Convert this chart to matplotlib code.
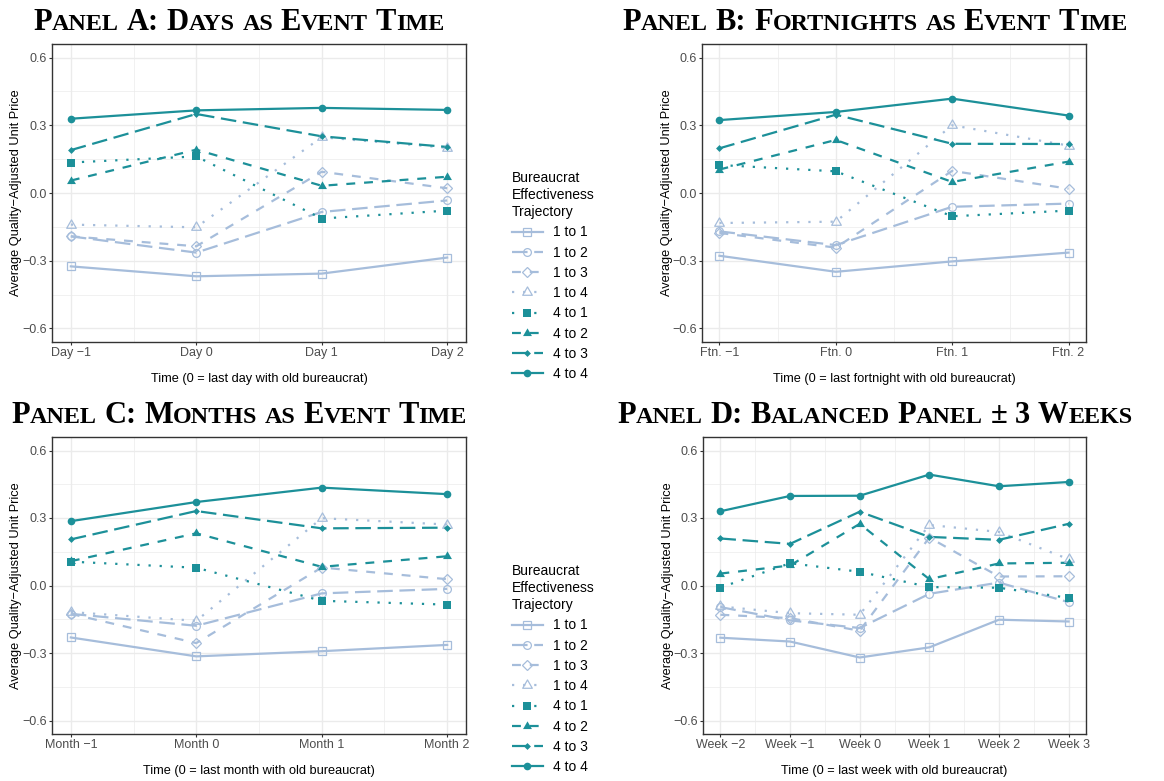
import matplotlib
matplotlib.use('Agg')
import matplotlib.pyplot as plt
from matplotlib.lines import Line2D
from matplotlib.path import Path
from matplotlib.transforms import IdentityTransform
import numpy as np

plt.rcParams['font.family'] = ['Liberation Sans', 'DejaVu Sans']

# 轨迹类别 (图例顺序)
series = ['1 to 1', '1 to 2', '1 to 3', '1 to 4', '4 to 1', '4 to 2', '4 to 3', '4 to 4']

# Panel A: days
days_ticks = ['Day \u22121', 'Day 0', 'Day 1', 'Day 2']
days_vals = [
    [-0.325, -0.369, -0.357, -0.286],
    [-0.192, -0.264, -0.084, -0.033],
    [-0.192, -0.236, 0.094, 0.021],
    [-0.140, -0.152, 0.247, 0.200],
    [0.135, 0.162, -0.113, -0.078],
    [0.055, 0.192, 0.032, 0.072],
    [0.190, 0.350, 0.251, 0.204],
    [0.329, 0.366, 0.377, 0.368],
]

# Panel B: fortnights
ftn_ticks = ['Ftn. \u22121', 'Ftn. 0', 'Ftn. 1', 'Ftn. 2']
ftn_vals = [
    [-0.278, -0.349, -0.303, -0.264],
    [-0.170, -0.231, -0.061, -0.047],
    [-0.177, -0.242, 0.098, 0.019],
    [-0.133, -0.127, 0.300, 0.210],
    [0.124, 0.096, -0.103, -0.078],
    [0.104, 0.235, 0.049, 0.139],
    [0.198, 0.347, 0.218, 0.217],
    [0.323, 0.359, 0.418, 0.343],
]

# Panel C: months
month_ticks = ['Month \u22121', 'Month 0', 'Month 1', 'Month 2']
month_vals = [
    [-0.231, -0.315, -0.292, -0.264],
    [-0.126, -0.179, -0.035, -0.015],
    [-0.126, -0.256, 0.080, 0.028],
    [-0.118, -0.157, 0.299, 0.271],
    [0.106, 0.079, -0.068, -0.085],
    [0.108, 0.232, 0.083, 0.130],
    [0.205, 0.331, 0.254, 0.257],
    [0.286, 0.371, 0.435, 0.406],
]

# Panel D: balanced weeks
week_ticks = ['Week \u22122', 'Week \u22121', 'Week 0', 'Week 1', 'Week 2', 'Week 3']
week_vals = [
    [-0.232, -0.249, -0.320, -0.275, -0.152, -0.160],
    [-0.096, -0.155, -0.189, -0.037, 0.013, -0.074],
    [-0.130, -0.145, -0.201, 0.213, 0.040, 0.041],
    [-0.093, -0.123, -0.130, 0.269, 0.238, 0.117],
    [-0.009, 0.099, 0.061, -0.007, -0.010, -0.055],
    [0.053, 0.089, 0.274, 0.028, 0.098, 0.101],
    [0.209, 0.185, 0.328, 0.216, 0.203, 0.274],
    [0.330, 0.398, 0.399, 0.493, 0.441, 0.460],
]

LIGHT = '#A6BDDB'
TEAL = '#1C9099'
# 以重心为中心的闭合三角形
TRI = Path([(0, 1), (-0.866, -0.5), (0.866, -0.5), (0, 1)], closed=True)

LONGDASH = (0, (7, 3))
DASHED = (0, (4, 4))
DOTTED = (0, (1, 4))

# 每条线的样式: 颜色, 线型, 标记, 标记大小, 是否实心
styles = [
    (LIGHT, '-', 's', 5.6, False),
    (LIGHT, LONGDASH, 'o', 5.6, False),
    (LIGHT, DASHED, 'D', 5.5, False),
    (LIGHT, DOTTED, TRI, 8.0, False),
    (TEAL, DOTTED, 's', 5.6, True),
    (TEAL, DASHED, TRI, 7.4, True),
    (TEAL, LONGDASH, 'D', 3.5, True),
    (TEAL, '-', 'o', 5.5, True),
]
LW = 1.6


def marker_kw(color, marker, ms, filled):
    return dict(marker=marker, ms=ms, mec=color,
                mfc=color if filled else 'none', mew=0.0 if filled else 0.9)


def draw_panel(ax, ticks, vals, xlabel):
    n = len(ticks)
    x = np.arange(n)
    for row, (c, ls, m, ms, filled) in zip(vals, styles):
        ax.plot(x, row, color=c, ls=ls, lw=LW, zorder=2)
    for row, (c, ls, m, ms, filled) in zip(vals, styles):
        ax.plot(x, row, ls='none', zorder=3, **marker_kw(c, m, ms, filled))
    ax.set_xlim(-0.05 * (n - 1), (n - 1) * 1.05)
    ax.set_ylim(-0.66, 0.66)
    ax.set_xticks(x)
    ax.set_xticklabels(ticks)
    ax.set_xticks(x[:-1] + 0.5, minor=True)
    ax.set_yticks([-0.6, -0.3, 0.0, 0.3, 0.6])
    ax.set_yticklabels(['\u22120.6', '\u22120.3', '0.0', '0.3', '0.6'])
    ax.set_yticks([-0.45, -0.15, 0.15, 0.45], minor=True)
    ax.grid(which='major', color='#EBEBEB', lw=1.0, zorder=0)
    ax.grid(which='minor', color='#EBEBEB', lw=0.5, zorder=0)
    ax.set_axisbelow(True)
    ax.tick_params(which='major', length=2, width=0.8, color='#333333',
                   labelcolor='#4D4D4D', labelsize=9, pad=1.5)
    ax.tick_params(which='minor', length=0)
    for sp in ax.spines.values():
        sp.set_color('#333333')
        sp.set_linewidth(1.0)
    ax.set_ylabel('Average Quality\u2212Adjusted Unit Price', fontsize=9.2)
    ax.set_xlabel(xlabel, fontsize=9.2)
    ax.xaxis.set_label_coords(0.5, -0.105)


def smallcaps(fig, s, xc, yb, size=22, ratio=0.79):
    # 用大小两种字号模拟小型大写字母标题
    r = fig.canvas.get_renderer()
    fam = 'Liberation Serif'
    probe = fig.text(0, 0, 'n n', fontsize=size, family=fam, weight='bold')
    probe2 = fig.text(0, 0, 'nn', fontsize=size, family=fam, weight='bold')
    space = probe.get_window_extent(r).width - probe2.get_window_extent(r).width
    probe.remove()
    probe2.remove()
    items = []
    for word in s.split(' '):
        runs = []
        for ch in word:
            big = not ch.islower()
            if runs and runs[-1][1] == big:
                runs[-1][0] += ch.upper()
            else:
                runs.append([ch.upper(), big])
        for txt, big in runs:
            t = fig.text(0, 0, txt, fontsize=size if big else size * ratio,
                         family=fam, weight='bold', va='baseline', ha='left',
                         transform=IdentityTransform())
            items.append([t, t.get_window_extent(r).width])
        items.append([None, space])
    items = items[:-1]
    total = sum(w for _, w in items)
    x = xc - total / 2
    for t, w in items:
        if t is not None:
            t.set_position((x, yb))
        x += w


W, H = 1164, 781
fig = plt.figure(figsize=(W / 100, H / 100), dpi=100)

ax_a = fig.add_axes([52 / W, 1 - 342 / H, 414 / W, 298 / H])
ax_b = fig.add_axes([702 / W, 1 - 342 / H, 384 / W, 298 / H])
ax_c = fig.add_axes([52 / W, 1 - 734 / H, 414 / W, 297 / H])
ax_d = fig.add_axes([703 / W, 1 - 734 / H, 383 / W, 297 / H])

draw_panel(ax_a, days_ticks, days_vals, 'Time (0 = last day with old bureaucrat)')
draw_panel(ax_b, ftn_ticks, ftn_vals, 'Time (0 = last fortnight with old bureaucrat)')
draw_panel(ax_c, month_ticks, month_vals, 'Time (0 = last month with old bureaucrat)')
draw_panel(ax_d, week_ticks, week_vals, 'Time (0 = last week with old bureaucrat)')

ax_a.yaxis.set_label_coords(-0.0725, 0.5)
ax_c.yaxis.set_label_coords(-0.0725, 0.5)
ax_b.yaxis.set_label_coords(-0.0755, 0.5)
ax_d.yaxis.set_label_coords(-0.0755, 0.5)

smallcaps(fig, 'Panel A: Days as Event Time', 239, H - 30)
smallcaps(fig, 'Panel B: Fortnights as Event Time', 875, H - 30)
smallcaps(fig, 'Panel C: Months as Event Time', 239, H - 423)
smallcaps(fig, 'Panel D: Balanced Panel \u00b1 3 Weeks', 875, H - 423)

# 图例
handles = []
for c, ls, m, ms, filled in styles:
    handles.append(Line2D([], [], color=c, ls=ls, lw=LW, **marker_kw(c, m, ms, filled)))

for top in (171, 564):
    leg = fig.legend(handles, series, title='Bureaucrat\nEffectiveness\nTrajectory',
                     loc='upper left', bbox_to_anchor=(512 / W, 1 - top / H),
                     frameon=False, fontsize=10, title_fontsize=10,
                     handlelength=2.2, numpoints=1, labelspacing=0.45,
                     borderpad=0, borderaxespad=0, handletextpad=0.72,
                     alignment='left')
    leg.get_title().set_linespacing(1.28)

fig.savefig('out.png', dpi=100)
